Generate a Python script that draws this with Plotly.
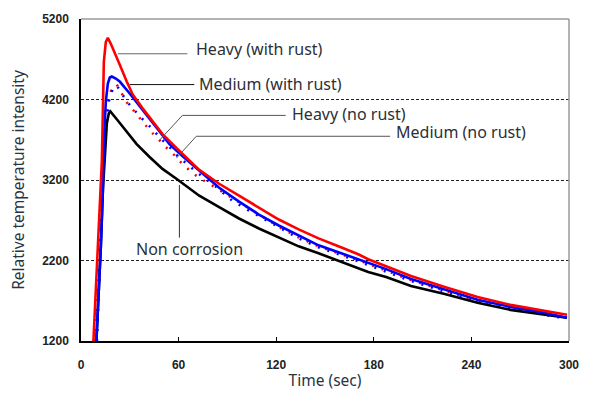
import plotly.graph_objects as go

# ---------------- data ----------------
heavy_rust_t = [7.64, 9.16, 10.39, 11.91, 12.83, 13.44, 14.05, 15.27, 16.50, 18.33, 20.77, 23.83,
                28.11, 31.77, 37.88, 43.99, 50.10, 58.65, 66.60, 72.71, 78.82, 84.93, 97.15,
                109.37, 121.59, 133.80, 146.02, 158.24, 170.46, 176.57, 187.57, 202.85, 223.62,
                243.78, 263.95, 284.72, 298.77]
heavy_rust_v = [1200, 1834, 2389, 2944, 3437, 4053, 4670, 4916, 4966, 4892, 4781, 4633,
                4423, 4263, 4090, 3930, 3770, 3597, 3437, 3326, 3240, 3153, 3005,
                2857, 2709, 2586, 2475, 2376, 2278, 2216, 2130, 2007, 1871,
                1748, 1649, 1575, 1526]

medium_rust_t = [9.47, 11.00, 12.22, 13.44, 14.05, 15.27, 16.50, 17.72, 18.94, 21.38, 23.83,
                 29.94, 36.05, 42.16, 48.27, 54.38, 62.32, 70.87, 76.98, 84.93, 97.15, 109.37,
                 121.59, 133.80, 146.02, 158.24, 170.46, 187.57, 202.85, 223.62, 243.78,
                 263.95, 284.72, 298.77]
medium_rust_v = [1200, 1834, 2389, 3067, 3683, 4177, 4399, 4473, 4485, 4460, 4423,
                 4275, 4115, 3955, 3807, 3646, 3498, 3351, 3240, 3104, 2931, 2771,
                 2635, 2512, 2389, 2302, 2216, 2093, 1970, 1834, 1711,
                 1624, 1550, 1489]

heavy_norust_t = [7.94, 11.00, 12.83, 14.66, 16.50, 18.94, 22.00, 25.05, 28.11, 31.77, 36.05,
                  42.16, 47.05, 51.32, 55.60, 62.32, 68.43, 72.71, 81.87, 98.37, 109.37, 123.42,
                  133.80, 146.02, 170.46, 202.85, 243.78, 284.72, 298.77]
heavy_norust_v = [1200, 2327, 3190, 3807, 4177, 4337, 4386, 4275, 4164, 4078, 3967,
                  3819, 3720, 3622, 3548, 3400, 3289, 3227, 3116, 2907, 2771, 2598,
                  2487, 2376, 2204, 1957, 1698, 1538, 1489]

medium_norust_t = [9.78, 11.61, 13.44, 15.27, 17.11, 19.55, 22.00, 28.11, 36.05, 43.99, 48.27,
                   55.60, 59.27, 66.60, 73.93, 83.70, 92.87, 103.26, 123.42, 133.80, 146.02,
                   170.46, 202.85, 243.78, 284.72, 298.77]
medium_norust_v = [1200, 2327, 3190, 3807, 4177, 4337, 4374, 4177, 3992, 3831, 3733,
                   3585, 3499, 3375, 3252, 3104, 2944, 2820, 2586, 2475, 2364,
                   2191, 1945, 1686, 1526, 1477]

non_corr_t = [9.47, 11.00, 12.22, 13.44, 14.66, 15.89, 17.11, 18.02, 22.00, 28.11, 34.22, 42.16,
              50.10, 58.65, 66.60, 72.71, 84.93, 97.15, 109.37, 121.59, 133.80, 146.02, 153.97,
              164.36, 176.57, 187.57, 202.85, 223.62, 243.78, 263.95, 284.72, 298.77]
non_corr_v = [1200, 1834, 2389, 3067, 3560, 3905, 4029, 4053, 3955, 3807, 3646, 3486,
              3338, 3215, 3092, 3005, 2863, 2722, 2598, 2487, 2376, 2290, 2228,
              2142, 2056, 1994, 1883, 1785, 1674, 1587, 1526, 1489]

x_ticks = [0, 60, 120, 180, 240, 300]
y_ticks = [1200, 2200, 3200, 4200, 5200]

# ---------------- figure ----------------
W, H = 591, 399
L, R, T, B = 81, 19, 17, 58
X0, X1 = 0, 300
Y0, Y1 = 1200, 5200


def dx(px):
    return X0 + (px - L) / (W - L - R) * (X1 - X0)


def dy(py):
    return Y1 - (py - T) / (H - T - B) * (Y1 - Y0)


fig = go.Figure()
fig.add_trace(go.Scatter(x=heavy_norust_t, y=heavy_norust_v, mode="lines",
                         line=dict(color="#FF0000", width=2.5, dash="2px,8px")))
fig.add_trace(go.Scatter(x=medium_norust_t, y=medium_norust_v, mode="lines",
                         line=dict(color="#0000FF", width=2.5, dash="2px,8px")))
fig.add_trace(go.Scatter(x=non_corr_t, y=non_corr_v, mode="lines",
                         line=dict(color="#000000", width=2.6)))
fig.add_trace(go.Scatter(x=medium_rust_t, y=medium_rust_v, mode="lines",
                         line=dict(color="#0000FF", width=2.6)))
fig.add_trace(go.Scatter(x=heavy_rust_t, y=heavy_rust_v, mode="lines",
                         line=dict(color="#FF0000", width=2.6)))

txt_font = dict(family="Noto Sans, Open Sans, sans-serif", size=16, color="#2b2f36")
labels = [
    ("Heavy (with rust)", 195, 47),
    ("Medium (with rust)", 198, 82),
    ("Heavy (no rust)", 291, 113),
    ("Medium (no rust)", 396, 131),
    ("Non corrosion", 134, 248),
]
annotations = [dict(x=dx(px), y=dy(py), xref="x", yref="y", text=t, showarrow=False,
                    xanchor="left", yanchor="middle", font=txt_font)
               for t, px, py in labels]

leaders = [
    ([(118, 52), (188, 52)], "#666666"),
    ([(130, 83), (195, 83)], "#111111"),
    ([(160, 139), (183, 114), (287, 114)], "#555555"),
    ([(177, 157), (197, 135), (392, 135)], "#555555"),
    ([(180, 184), (180, 237)], "#333333"),
]
shapes = []
for pts, col in leaders:
    path = "M " + " L ".join(f"{dx(px)},{dy(py)}" for px, py in pts)
    shapes.append(dict(type="path", path=path, xref="x", yref="y",
                       line=dict(color=col, width=1)))
# gray top/right frame
shapes.append(dict(type="line", xref="paper", yref="paper", x0=0, x1=1, y0=1, y1=1,
                   line=dict(color="#9a9a9a", width=1.5)))
shapes.append(dict(type="line", xref="paper", yref="paper", x0=1, x1=1, y0=0, y1=1,
                   line=dict(color="#9a9a9a", width=1.5)))

tick_font = dict(family="Liberation Sans, Arial, sans-serif", size=12, color="#222222")
title_font = dict(family="Noto Sans, Open Sans, sans-serif", size=15.5, color="#283442")

fig.update_layout(
    width=W, height=H,
    margin=dict(l=L, r=R, t=T, b=B),
    paper_bgcolor="white", plot_bgcolor="white",
    showlegend=False,
    annotations=annotations,
    shapes=shapes,
    xaxis=dict(range=[X0, X1], tickvals=x_ticks, ticktext=[f"<b>{v}</b>" for v in x_ticks],
               showgrid=False, zeroline=False, showline=True, linecolor="black", linewidth=1.5,
               ticks="inside", ticklen=4, tickcolor="black", tickfont=tick_font,
               ticklabelstandoff=12,
               title=dict(text="Time (sec)", font=title_font, standoff=4)),
    yaxis=dict(range=[Y0, Y1], tickvals=y_ticks, ticktext=[f"<b>{v}</b>" for v in y_ticks],
               showgrid=True, gridcolor="#222222", gridwidth=1, griddash="3px,2px",
               zeroline=False, showline=True, linecolor="black", linewidth=1.5,
               ticks="", tickfont=tick_font, ticklabelstandoff=8,
               title=dict(text="Relative temperature intensity", font=title_font, standoff=14)),
)

fig.write_html("out.html")
